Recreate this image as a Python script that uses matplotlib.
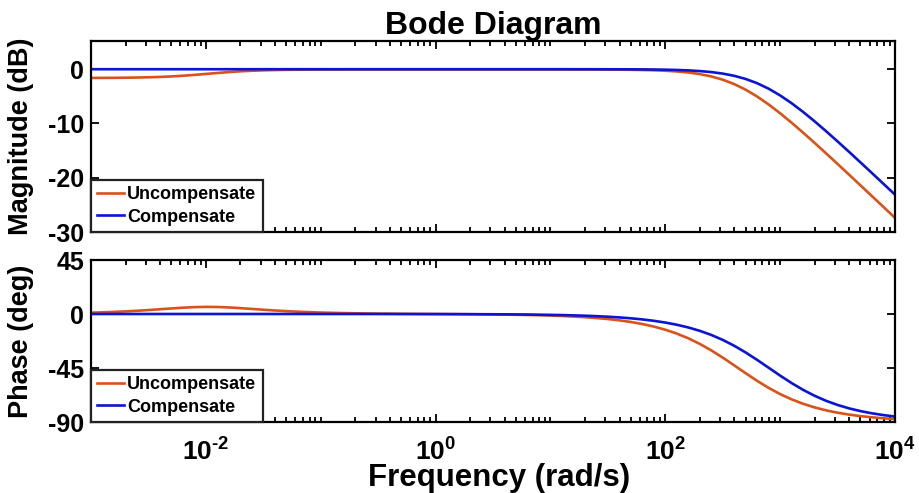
import numpy as np
import matplotlib
matplotlib.use("Agg")
import matplotlib.pyplot as plt
from matplotlib.ticker import FixedLocator, FuncFormatter, NullFormatter

plt.rcParams["font.family"] = ["Liberation Sans", "DejaVu Sans"]
plt.rcParams["font.weight"] = "bold"
plt.rcParams["mathtext.fontset"] = "custom"
plt.rcParams["mathtext.rm"] = "Liberation Sans:bold"
plt.rcParams["mathtext.bf"] = "Liberation Sans:bold"
plt.rcParams["axes.unicode_minus"] = False

# Frequency samples (rad/s)
freq = np.array([
    0.001, 0.001259, 0.001585, 0.001995, 0.002512, 0.003162, 0.003981, 0.005012, 0.006310, 0.007943,
    0.01, 0.01259, 0.01585, 0.01995, 0.02512, 0.03162, 0.03981, 0.05012, 0.06310, 0.07943,
    0.1, 0.1259, 0.1585, 0.1995, 0.2512, 0.3162, 0.3981, 0.5012, 0.6310, 0.7943,
    1, 1.259, 1.585, 1.995, 2.512, 3.162, 3.981, 5.012, 6.310, 7.943,
    10, 12.59, 15.85, 19.95, 25.12, 31.62, 39.81, 50.12, 63.10, 79.43,
    100, 125.9, 158.5, 199.5, 251.2, 316.2, 398.1, 501.2, 631.0, 794.3,
    1000, 1259, 1585, 1995, 2512, 3162, 3981, 5012, 6310, 7943, 10000,
])

# Magnitude (dB)
mag_uncomp = np.array([
    -1.604, -1.596, -1.583, -1.563, -1.533, -1.487, -1.422, -1.330, -1.202, -1.047,
    -0.873, -0.694, -0.529, -0.391, -0.284, -0.206, -0.152, -0.116, -0.092, -0.077,
    -0.067, -0.061, -0.057, -0.054, -0.053, -0.052, -0.051, -0.051, -0.050, -0.050,
    -0.050, -0.050, -0.050, -0.050, -0.050, -0.050, -0.050, -0.050, -0.050, -0.051,
    -0.052, -0.054, -0.056, -0.059, -0.065, -0.073, -0.087, -0.109, -0.143, -0.196,
    -0.279, -0.407, -0.603, -0.897, -1.325, -1.928, -2.738, -3.776, -5.037, -6.497,
    -8.117, -9.860, -11.689, -13.578, -15.506, -17.460, -19.431, -21.412, -23.401, -25.393, -27.389,
])
mag_comp = np.array([
    0.0, 0.0, 0.0, 0.0, 0.0, 0.0, 0.0, 0.0, 0.0, 0.0,
    0.0, 0.0, 0.0, 0.0, 0.0, 0.0, 0.0, 0.0, 0.0, 0.0,
    0.0, 0.0, 0.0, 0.0, 0.0, 0.0, 0.0, 0.0, 0.0, 0.0,
    0.0, 0.0, 0.0, 0.0, 0.0, 0.0, 0.0, 0.0, 0.0, 0.0,
    -0.001, -0.001, -0.002, -0.004, -0.006, -0.009, -0.014, -0.022, -0.035, -0.056,
    -0.088, -0.138, -0.217, -0.339, -0.526, -0.807, -1.217, -1.797, -2.583, -3.594,
    -4.830, -6.268, -7.872, -9.602, -11.423, -13.306, -15.230, -17.182, -19.151, -21.132, -23.119,
])

# Phase (deg)
phase_uncomp = np.array([
    1.13, 1.40, 1.76, 2.18, 2.69, 3.29, 3.95, 4.63, 5.24, 5.72,
    5.93, 5.84, 5.46, 4.88, 4.23, 3.55, 2.93, 2.39, 1.93, 1.55,
    1.22, 0.97, 0.76, 0.60, 0.46, 0.35, 0.25, 0.17, 0.10, 0.03,
    -0.02, -0.08, -0.14, -0.21, -0.29, -0.39, -0.50, -0.65, -0.82, -1.04,
    -1.32, -1.66, -2.10, -2.65, -3.34, -4.20, -5.29, -6.65, -8.35, -10.47,
    -13.09, -16.32, -20.23, -24.89, -30.29, -36.33, -42.79, -49.37, -55.73, -61.57,
    -66.73, -71.14, -74.82, -77.84, -80.29, -82.26, -83.84, -85.10, -86.10, -86.90, -87.54,
])
phase_comp = np.array([
    0.0, 0.0, 0.0, 0.0, 0.0, 0.0, 0.0, 0.0, 0.0, 0.0,
    0.0, 0.0, 0.0, 0.0, 0.0, 0.0, 0.0, 0.0, 0.0, 0.0,
    -0.01, -0.01, -0.01, -0.01, -0.02, -0.02, -0.03, -0.04, -0.05, -0.06,
    -0.07, -0.09, -0.11, -0.14, -0.18, -0.23, -0.29, -0.36, -0.45, -0.57,
    -0.72, -0.90, -1.14, -1.43, -1.80, -2.26, -2.85, -3.59, -4.51, -5.67,
    -7.13, -8.94, -11.21, -14.01, -17.43, -21.57, -26.46, -32.07, -38.26, -44.80,
    -51.34, -57.56, -63.22, -68.15, -72.34, -75.80, -78.64, -80.93, -82.77, -84.25, -85.43,
])

series_labels = ["Uncompensate", "Compensate"]
mag_ticks = [-30, -20, -10, 0]
phase_ticks = [-90, -45, 0, 45]
freq_major = [1e-2, 1e0, 1e2, 1e4]

c_unc = "#D95319"
c_cmp = "#0A14D2"

W, H = 919, 493
fig = plt.figure(figsize=(W / 100, H / 100), dpi=100)
L, R = 91, 895
ax1 = fig.add_axes([L / W, 1 - 232 / H, (R - L) / W, (232 - 41) / H])
ax2 = fig.add_axes([L / W, 1 - 422 / H, (R - L) / W, (422 - 260) / H])

minor = [m * 10.0 ** e for e in range(-3, 4) for m in range(1, 10)
         if not (m == 1 and e in (-2, 0, 2))]


def decade_label(v, pos):
    e = int(round(np.log10(v)))
    exp = str(e).replace("-", "\u2010")
    return r"$\mathbf{10^{%s}}$" % exp


for ax in (ax1, ax2):
    ax.set_xscale("log")
    ax.set_xlim(1e-3, 1e4)
    ax.xaxis.set_major_locator(FixedLocator(freq_major))
    ax.xaxis.set_minor_locator(FixedLocator(minor))
    ax.xaxis.set_minor_formatter(NullFormatter())
    ax.tick_params(which="both", direction="in", top=True, right=True, width=1.3)
    ax.tick_params(which="major", length=6)
    ax.tick_params(which="minor", length=3.5)
    ax.tick_params(axis="y", labelsize=18, pad=5)
    ax.tick_params(axis="x", labelsize=19, pad=12)
    for s in ax.spines.values():
        s.set_linewidth(1.6)

ax1.plot(freq, mag_uncomp, color=c_unc, lw=1.9, label=series_labels[0])
ax1.plot(freq, mag_comp, color=c_cmp, lw=1.9, label=series_labels[1])
ax1.set_ylim(-30, 5.2)
ax1.set_yticks(mag_ticks)
ax1.xaxis.set_major_formatter(NullFormatter())
ax1.set_ylabel("Magnitude (dB)", fontsize=19.5, fontweight="bold")
ax1.yaxis.set_label_coords(-0.071, 0.5)
ax1.set_title("Bode Diagram", fontsize=23, fontweight="bold", pad=4)

ax2.plot(freq, phase_uncomp, color=c_unc, lw=1.9, label=series_labels[0])
ax2.plot(freq, phase_comp, color=c_cmp, lw=1.9, label=series_labels[1])
ax2.set_ylim(-90, 45)
ax2.set_yticks(phase_ticks)
ax2.xaxis.set_major_formatter(FuncFormatter(decade_label))
ax2.set_ylabel("Phase (deg)", fontsize=19.5, fontweight="bold")
ax2.yaxis.set_label_coords(-0.071, 0.5)
ax2.set_xlabel("Frequency (rad/s)", fontsize=22.5, fontweight="bold")
ax2.xaxis.set_label_coords(0.507, -0.255)
ax2.xaxis.label.set_va("top")

for ax in (ax1, ax2):
    leg = ax.legend(loc="lower left", borderaxespad=0, fancybox=False, framealpha=1,
                    edgecolor="#222222", prop={"size": 13, "weight": "bold"},
                    handlelength=1.5, handletextpad=0.15, borderpad=0.35,
                    labelspacing=0.3)
    leg.get_frame().set_linewidth(1.6)

fig.savefig("out.png", dpi=100)
